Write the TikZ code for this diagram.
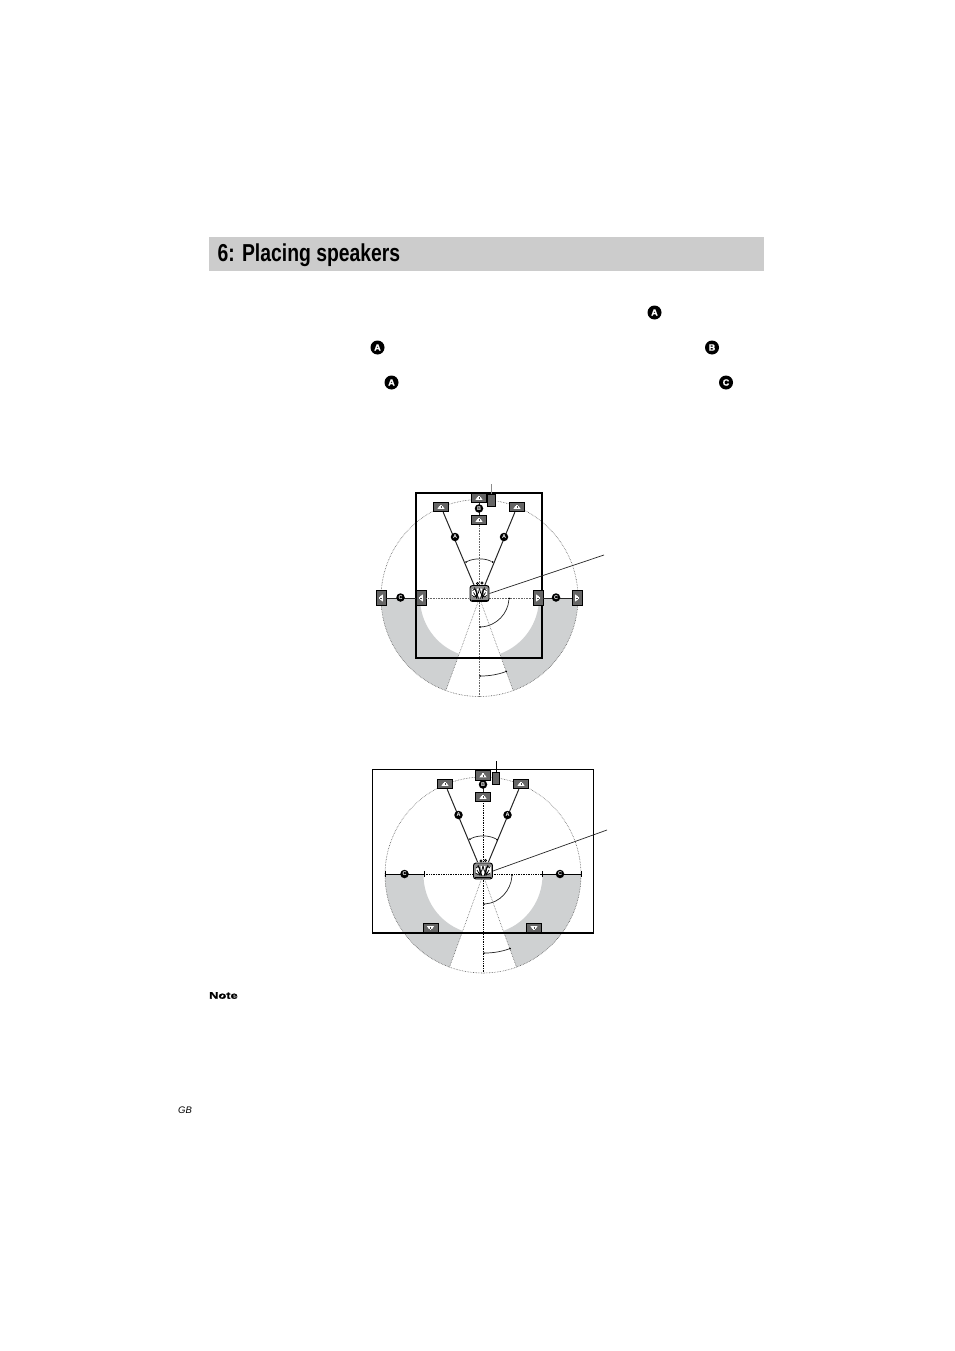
\documentclass[tikz,border=0pt]{standalone}
\usepackage{fontspec}
\setmainfont{Liberation Sans}
\newfontfamily\titlefont[FakeStretch=0.79]{Liberation Sans}
\newfontfamily\notefont[FakeStretch=1.35,FakeBold=1.5]{Liberation Sans}
\newfontfamily\badgefont[FakeBold=1.5]{Liberation Sans}
\definecolor{band}{HTML}{CCCCCC}
\definecolor{zone}{HTML}{CFD1D2}
\definecolor{spk}{HTML}{666666}
\usetikzlibrary{calc}
\tikzset{
  badge/.style={circle,fill=black,text=white,inner sep=0pt,minimum size=14pt,font=\badgefont\fontsize{9}{9}\selectfont\bfseries},
  smallbadge/.style={circle,fill=black,text=white,inner sep=0pt,minimum size=8.5pt,font=\fontsize{5.5}{5.5}\selectfont\bfseries},
  hspk/.style={rectangle,draw=black,line width=.9pt,fill=spk,minimum width=15pt,minimum height=9.5pt,inner sep=0pt},
  vspk/.style={rectangle,draw=black,line width=.9pt,fill=spk,minimum width=10pt,minimum height=15pt,inner sep=0pt},
  tvset/.style={rectangle,draw=black,line width=.9pt,fill=spk,minimum width=7.5pt,minimum height=12pt,inner sep=0pt},
  seat/.style={rectangle,rounded corners=2.5pt,draw=black,line width=.9pt,fill=black!45,minimum width=19pt,minimum height=16pt,inner sep=0pt},
  griddot/.style={densely dotted,line width=.6pt,black!60},
  griddark/.style={densely dotted,line width=.7pt,black},
  ring/.style={densely dotted,line width=.6pt,black!65},
  wire/.style={line width=1pt,black!85},
  angle/.style={line width=.7pt,black!85},
  pin/.style={circle,fill=black,inner sep=0pt,minimum size=2pt},
  leader/.style={line width=.7pt,black!85},
}
\newcommand{\spkicon}[3]{\begin{scope}[shift={(#1,#2)},rotate=#3,scale=.82]
  \fill[white] (-1,-3) rectangle (1,-1);
  \fill[white] (-2,-1.2) -- (2,-1.2) -- (4.4,2.4) -- (-4.4,2.4) -- cycle;
  \draw[black!70,line width=.6pt] (0,-1) -- (0,1.6);
\end{scope}}
\newcommand{\seatscribble}[2]{\begin{scope}[shift={(#1,#2)},line width=.75pt,black]
  \fill[white] (-7.5,-4.5) rectangle (-4,3);\fill[white] (4,-4.5) rectangle (7.5,3);
  \fill[white] (-2.5,-5) -- (2.5,-5) -- (1,4) -- (-1,4) -- cycle;
  \draw (-7,-3) .. controls (-4,-7) and (-2,-2) .. (-3,5);
  \draw (7,-3) .. controls (4,-7) and (2,-2) .. (3,5);
  \draw (-7.5,2) .. controls (-4,6) and (-1,1) .. (0,-5);
  \draw (7.5,2) .. controls (4,6) and (1,1) .. (0,-5);
  \draw (-5,-6) -- (-1,5); \draw (5,-6) -- (1,5);
  \draw (-6,-1) -- (-3,4); \draw (6,-1) -- (3,4);
  \draw[line width=1.1pt] (-8,6.6) -- (8,6.6);
  \draw[fill=white] (-2,-10) circle (1.2); \draw[fill=white] (2.5,-10.5) circle (1.2);
\end{scope}}
\newcommand{\zones}[3]{%
  \fill[zone] ($(#1,#2)+(0:#3)$) arc[start angle=0,end angle=70,radius=#3]
     -- ($(#1,#2)+(70:59.5)$) arc[start angle=70,end angle=0,radius=59.5] -- cycle;
  \fill[zone] ($(#1,#2)+(110:#3)$) arc[start angle=110,end angle=180,radius=#3]
     -- ($(#1,#2)+(180:59.5)$) arc[start angle=180,end angle=110,radius=59.5] -- cycle;
  \draw[ring] (#1,#2) circle[radius=#3];
}
\begin{document}
\begin{tikzpicture}[x=1pt,y=-1pt]
\useasboundingbox (0,0) rectangle (954,1351);
% heading
\fill[band] (209,237) rectangle (764,271);
\node[anchor=base west,inner sep=0pt,font=\titlefont\bfseries\fontsize{24.5}{24.5}\selectfont] (title) at (217.5,261.5) {6: Placing speakers};
\node[badge] (ta) at (654.5,312.5) {A};
\node[badge] (tb) at (377.5,347.5) {A};
\node[badge] (tc) at (712,347.5) {B};
\node[badge] (td) at (391.5,382.5) {A};
\node[badge] (te) at (726,382.5) {C};

% ===== first diagram =====
\coordinate (c1) at (479.5,598);
\zones{479.5}{598}{98.5}
\coordinate (r1a) at ($(c1)+(110:98.5)$);
\coordinate (r1b) at ($(c1)+(70:98.5)$);
\coordinate (v1t) at (479.5,512);
\coordinate (v1b) at (479.5,697);
\draw[griddot] (c1) -- (r1a);
\draw[griddot] (c1) -- (r1b);
\draw[griddot] (v1t) -- (v1b);
\draw[line width=2pt,black] (416,493) rectangle (542,658);
\node[hspk] (fl1) at (441,507) {};
\node[hspk] (fr1) at (517,507) {};
\node[hspk] (ct1) at (479,498) {};
\node[hspk] (cb1) at (479,520) {};
\node[tvset] (tv1) at (491.5,500) {};
\coordinate (tvtop1) at (491.5,484);
\draw[line width=.8pt,black!45] (tvtop1) -- (tv1.north);
\node[vspk] (sl1o) at (381,598) {};
\node[vspk] (sl1i) at (421,598) {};
\node[vspk] (sr1i) at (538,598) {};
\node[vspk] (sr1o) at (577,598) {};
\draw[griddot] (sl1i) -- (c1);
\draw[griddot] (sr1i) -- (c1);
\draw[wire,shorten >=14pt] (fl1) -- (c1);
\draw[wire,shorten >=14pt] (fr1) -- (c1);
\draw[wire] (ct1) -- (cb1);
\draw[wire] (sl1o) -- (sl1i);
\draw[wire] (sr1i) -- (sr1o);
\node[seat] (p1) at (479.5,593.5) {};
\seatscribble{479.5}{593.5}
\coordinate (lead1) at (604,555);
\draw[leader] (p1.east) -- (lead1);
\spkicon{441}{507}{0}\spkicon{517}{507}{0}\spkicon{479}{498}{0}\spkicon{479}{520}{0}
\spkicon{381}{598}{90}\spkicon{421}{598}{90}\spkicon{538}{598}{-90}\spkicon{577}{598}{-90}
\node[smallbadge] (a1l) at (455,537) {A};
\node[smallbadge] (a1r) at (504,537) {A};
\node[smallbadge] (b1) at (479,508.5) {B};
\node[smallbadge] (c1l) at (400.5,597.5) {C};
\node[smallbadge] (c1r) at (556,597.5) {C};
\node[pin] (g1a) at (466,562) {}; \node[pin] (g1b) at (492.5,562) {};
\node[pin] (g1c) at (509,598.5) {}; \node[pin] (g1d) at (480,627) {};
\node[pin] (g1e) at (480,676) {}; \node[pin] (g1f) at (506,671.5) {};
\draw[angle] (g1a) .. controls (474,558) and (485,558) .. (g1b);
\draw[angle] (g1c) .. controls (508,613) and (497,626) .. (g1d);
\draw[angle] (g1e) .. controls (489,676) and (498,674.5) .. (g1f);

% ===== second diagram =====
\coordinate (c2) at (483,875);
\zones{483}{875}{98}
\coordinate (r2a) at ($(c2)+(110:98)$);
\coordinate (r2b) at ($(c2)+(70:98)$);
\coordinate (v2t) at (483,803);
\coordinate (v2b) at (483,973);
\draw[griddot] (c2) -- (r2a);
\draw[griddot] (c2) -- (r2b);
\draw[griddark] (v2t) -- (v2b);
\draw[line width=1.5pt,black] (372.5,769.5) rectangle (593.5,933);
\node[hspk] (fl2) at (445,784) {};
\node[hspk] (fr2) at (521,784) {};
\node[hspk] (ct2) at (483,775.5) {};
\node[hspk] (cb2) at (483,797) {};
\node[tvset] (tv2) at (496,778) {};
\coordinate (tvtop2) at (496,761);
\draw[line width=.8pt,black] (tvtop2) -- (tv2.north);
\node[hspk] (bl2) at (430.5,928) {};
\node[hspk] (br2) at (534,928) {};
\coordinate (tl2o) at (385,874); \coordinate (tl2i) at (424,874);
\coordinate (tr2i) at (542,874); \coordinate (tr2o) at (581.5,874);
\draw[griddark] (tl2i) -- (tr2i);
\draw[wire,black] (tl2o) -- (tl2i);
\draw[wire,black] (tr2i) -- (tr2o);
\draw[wire,black] ($(tl2o)+(0,-3)$) -- ($(tl2o)+(0,3)$);
\draw[wire,black] ($(tl2i)+(0,-3)$) -- ($(tl2i)+(0,3)$);
\draw[wire,black] ($(tr2i)+(0,-3)$) -- ($(tr2i)+(0,3)$);
\draw[wire,black] ($(tr2o)+(0,-3)$) -- ($(tr2o)+(0,3)$);
\draw[wire,shorten >=14pt] (fl2) -- (c2);
\draw[wire,shorten >=14pt] (fr2) -- (c2);
\draw[wire] (ct2) -- (cb2);
\node[seat] (p2) at (483,871) {};
\seatscribble{483}{871}
\coordinate (lead2) at (607,830);
\draw[leader] (p2.east) -- (lead2);
\spkicon{445}{784}{0}\spkicon{521}{784}{0}\spkicon{483}{775.5}{0}\spkicon{483}{797}{0}
\spkicon{430.5}{928}{180}\spkicon{534}{928}{180}
\node[smallbadge] (a2l) at (458.5,815) {A};
\node[smallbadge] (a2r) at (507.5,815) {A};
\node[smallbadge] (b2) at (483,784.5) {B};
\node[smallbadge] (c2l) at (404.5,874) {C};
\node[smallbadge] (c2r) at (560,874) {C};
\node[pin] (g2a) at (470,839) {}; \node[pin] (g2b) at (497,839.5) {};
\node[pin] (g2c) at (512,875) {}; \node[pin] (g2d) at (484,904) {};
\node[pin] (g2e) at (484,953) {}; \node[pin] (g2f) at (510,948.5) {};
\draw[angle] (g2a) .. controls (478,835) and (489,835) .. (g2b);
\draw[angle] (g2c) .. controls (511,890) and (500,903) .. (g2d);
\draw[angle] (g2e) .. controls (493,953) and (502,951.5) .. (g2f);

% ===== footer labels =====
\node[anchor=west,inner sep=0pt,font=\notefont\bfseries\fontsize{9.5}{9.5}\selectfont] (note) at (209,995.5) {Note};
\node[anchor=west,inner sep=0pt,font=\itshape\fontsize{9.5}{9.5}\selectfont] (gb) at (178,1110) {GB};
\end{tikzpicture}
\end{document}
